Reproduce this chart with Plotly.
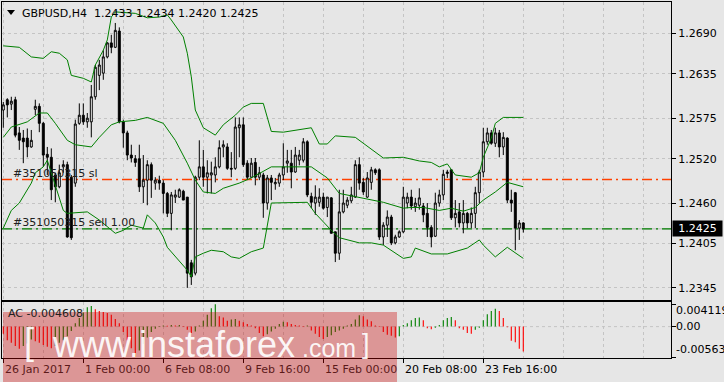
import plotly.graph_objects as go

# ---------------- data ----------------
bars = list(range(131))

opens = [
1.2586, 1.2600, 1.2594, 1.2600, 1.2555, 1.2548, 1.2548, 1.2536, 1.2587, 1.2591,
1.2568, 1.2526, 1.2522, 1.2498, 1.2482, 1.2509, 1.2512, 1.2495, 1.2487, 1.2568,
1.2579, 1.2570, 1.2570, 1.2604, 1.2633, 1.2636, 1.2658, 1.2677, 1.2671, 1.2693,
1.2570, 1.2555, 1.2525, 1.2520, 1.2520, 1.2482, 1.2491, 1.2512, 1.2487, 1.2491,
1.2487, 1.2473, 1.2446, 1.2468, 1.2468, 1.2476, 1.2468, 1.2379, 1.2365, 1.2495,
1.2509, 1.2495, 1.2498, 1.2498, 1.2509, 1.2536, 1.2536, 1.2507, 1.2507, 1.2562,
1.2566, 1.2514, 1.2495, 1.2515, 1.2495, 1.2498, 1.2460, 1.2494, 1.2486, 1.2487,
1.2498, 1.2514, 1.2514, 1.2502, 1.2518, 1.2518, 1.2543, 1.2469, 1.2460, 1.2461,
1.2468, 1.2454, 1.2467, 1.2421, 1.2392, 1.2448, 1.2457, 1.2463, 1.2468, 1.2512,
1.2488, 1.2468, 1.2488, 1.2505, 1.2505, 1.2414, 1.2430, 1.2441, 1.2406, 1.2414,
1.2421, 1.2460, 1.2468, 1.2455, 1.2457, 1.2456, 1.2446, 1.2427, 1.2415, 1.2460,
1.2471, 1.2500, 1.2505, 1.2440, 1.2448, 1.2433, 1.2446, 1.2433, 1.2446, 1.2474,
1.2502, 1.2543, 1.2555, 1.2541, 1.2555, 1.2536, 1.2548, 1.2464, 1.2474, 1.2426,
1.2433]

highs = [
1.2597, 1.2602, 1.2604, 1.2604, 1.2563, 1.2559, 1.2561, 1.2559, 1.2600, 1.2595,
1.2570, 1.2536, 1.2534, 1.2501, 1.2512, 1.2518, 1.2516, 1.2498, 1.2573, 1.2595,
1.2595, 1.2582, 1.2620, 1.2647, 1.2654, 1.2667, 1.2678, 1.2688, 1.2704, 1.2698,
1.2573, 1.2558, 1.2539, 1.2525, 1.2539, 1.2525, 1.2518, 1.2515, 1.2495, 1.2497,
1.2491, 1.2475, 1.2475, 1.2478, 1.2480, 1.2478, 1.2468, 1.2383, 1.2497, 1.2545,
1.2532, 1.2518, 1.2516, 1.2522, 1.2545, 1.2545, 1.2541, 1.2529, 1.2576, 1.2576,
1.2576, 1.2518, 1.2521, 1.2521, 1.2509, 1.2501, 1.2498, 1.2498, 1.2494, 1.2501,
1.2541, 1.2532, 1.2532, 1.2536, 1.2532, 1.2548, 1.2545, 1.2474, 1.2484, 1.2480,
1.2474, 1.2468, 1.2468, 1.2421, 1.2478, 1.2478, 1.2468, 1.2482, 1.2518, 1.2522,
1.2494, 1.2502, 1.2509, 1.2507, 1.2507, 1.2434, 1.2450, 1.2444, 1.2417, 1.2423,
1.2482, 1.2474, 1.2478, 1.2467, 1.2480, 1.2460, 1.2460, 1.2430, 1.2474, 1.2478,
1.2505, 1.2505, 1.2506, 1.2464, 1.2460, 1.2464, 1.2448, 1.2454, 1.2482, 1.2505,
1.2562, 1.2562, 1.2559, 1.2562, 1.2559, 1.2556, 1.2549, 1.2478, 1.2475, 1.2437,
1.2434]

lows = [
1.2562, 1.2576, 1.2586, 1.2549, 1.2532, 1.2514, 1.2522, 1.2535, 1.2579, 1.2556,
1.2509, 1.2498, 1.2464, 1.2461, 1.2480, 1.2501, 1.2413, 1.2410, 1.2482, 1.2566,
1.2566, 1.2562, 1.2549, 1.2600, 1.2613, 1.2627, 1.2656, 1.2663, 1.2670, 1.2568,
1.2535, 1.2518, 1.2515, 1.2509, 1.2475, 1.2460, 1.2457, 1.2467, 1.2478, 1.2478,
1.2446, 1.2441, 1.2423, 1.2460, 1.2467, 1.2464, 1.2345, 1.2349, 1.2362, 1.2491,
1.2482, 1.2473, 1.2473, 1.2488, 1.2507, 1.2522, 1.2505, 1.2495, 1.2505, 1.2522,
1.2509, 1.2491, 1.2494, 1.2484, 1.2491, 1.2440, 1.2451, 1.2464, 1.2478, 1.2482,
1.2491, 1.2501, 1.2480, 1.2501, 1.2511, 1.2515, 1.2468, 1.2453, 1.2444, 1.2455,
1.2451, 1.2441, 1.2419, 1.2380, 1.2383, 1.2446, 1.2453, 1.2460, 1.2467, 1.2478,
1.2471, 1.2467, 1.2478, 1.2498, 1.2410, 1.2403, 1.2414, 1.2403, 1.2404, 1.2413,
1.2419, 1.2453, 1.2451, 1.2448, 1.2451, 1.2434, 1.2414, 1.2400, 1.2414, 1.2455,
1.2464, 1.2494, 1.2437, 1.2427, 1.2427, 1.2419, 1.2426, 1.2426, 1.2426, 1.2460,
1.2495, 1.2539, 1.2539, 1.2536, 1.2522, 1.2525, 1.2460, 1.2448, 1.2396, 1.2410,
1.2420]

closes = [
1.2593, 1.2593, 1.2598, 1.2552, 1.2545, 1.2543, 1.2536, 1.2545, 1.2591, 1.2568,
1.2525, 1.2522, 1.2478, 1.2482, 1.2501, 1.2512, 1.2414, 1.2413, 1.2567, 1.2579,
1.2570, 1.2575, 1.2604, 1.2644, 1.2647, 1.2658, 1.2677, 1.2671, 1.2694, 1.2570,
1.2555, 1.2525, 1.2521, 1.2515, 1.2482, 1.2491, 1.2512, 1.2491, 1.2491, 1.2487,
1.2473, 1.2446, 1.2471, 1.2471, 1.2478, 1.2464, 1.2365, 1.2360, 1.2495, 1.2509,
1.2495, 1.2501, 1.2501, 1.2509, 1.2535, 1.2539, 1.2507, 1.2506, 1.2563, 1.2566,
1.2512, 1.2495, 1.2514, 1.2495, 1.2501, 1.2460, 1.2494, 1.2488, 1.2488, 1.2498,
1.2509, 1.2517, 1.2502, 1.2525, 1.2525, 1.2543, 1.2471, 1.2461, 1.2468, 1.2468,
1.2453, 1.2468, 1.2419, 1.2392, 1.2448, 1.2460, 1.2464, 1.2471, 1.2512, 1.2487,
1.2475, 1.2494, 1.2505, 1.2501, 1.2414, 1.2430, 1.2441, 1.2406, 1.2414, 1.2421,
1.2468, 1.2468, 1.2456, 1.2460, 1.2467, 1.2444, 1.2427, 1.2414, 1.2460, 1.2471,
1.2499, 1.2502, 1.2440, 1.2446, 1.2433, 1.2446, 1.2433, 1.2446, 1.2474, 1.2502,
1.2543, 1.2555, 1.2541, 1.2555, 1.2536, 1.2549, 1.2464, 1.2460, 1.2426, 1.2433,
1.2425]

# Bollinger band readings (bar index, price)
upper_idx = [0, 4, 7, 10, 12, 14, 16, 17, 20, 22, 23, 25, 26, 27, 28, 33, 36, 39, 41, 42,
             45, 46, 47, 48, 50, 53, 55, 58, 60, 62, 65, 67, 70, 77, 79, 81, 83, 88, 95, 100,
             104, 107, 109, 111, 113, 117, 119, 120, 122, 123, 125, 130]
upper_val = [1.2673, 1.2671, 1.2658, 1.2656, 1.2665, 1.2663, 1.2654, 1.2633, 1.2629, 1.2624,
             1.2647, 1.2667, 1.2681, 1.2712, 1.2719, 1.2717, 1.2711, 1.2712, 1.2715, 1.2708,
             1.2685, 1.2663, 1.2631, 1.2586, 1.2562, 1.2552, 1.2566, 1.2579, 1.2590, 1.2595,
             1.2595, 1.2557, 1.2556, 1.2562, 1.2540, 1.2540, 1.2551, 1.2549, 1.2521, 1.2522,
             1.2517, 1.2515, 1.2509, 1.2513, 1.2498, 1.2495, 1.2501, 1.2522, 1.2548, 1.2568,
             1.2576, 1.2576]
mid_idx = [0, 2, 6, 9, 11, 13, 16, 18, 22, 24, 27, 29, 33, 36, 40, 43, 46, 48, 50, 53,
           55, 59, 62, 67, 77, 81, 84, 89, 93, 95, 100, 102, 105, 109, 112, 115, 118, 120, 123, 126,
           130]
mid_val = [1.2549, 1.2563, 1.2570, 1.2582, 1.2582, 1.2568, 1.2545, 1.2539, 1.2536, 1.2549,
           1.2566, 1.2570, 1.2572, 1.2576, 1.2568, 1.2545, 1.2514, 1.2491, 1.2475, 1.2473,
           1.2480, 1.2487, 1.2494, 1.2509, 1.2509, 1.2494, 1.2473, 1.2468, 1.2464, 1.2461,
           1.2453, 1.2454, 1.2454, 1.2450, 1.2453, 1.2449, 1.2454, 1.2464, 1.2475, 1.2488,
           1.2482]
lower_idx = [0, 2, 4, 7, 8, 10, 11, 13, 15, 16, 21, 24, 27, 28, 30, 32, 35, 36, 38, 40,
             41, 46, 47, 48, 50, 52, 55, 57, 59, 62, 65, 67, 76, 78, 82, 84, 89, 92, 95, 100,
             102, 103, 107, 111, 116, 119, 120, 123, 126, 130]
lower_val = [1.2426, 1.2450, 1.2460, 1.2487, 1.2501, 1.2509, 1.2518, 1.2484, 1.2450, 1.2446,
             1.2448, 1.2437, 1.2423, 1.2419, 1.2423, 1.2430, 1.2426, 1.2444, 1.2433, 1.2414,
             1.2400, 1.2369, 1.2360, 1.2387, 1.2392, 1.2396, 1.2394, 1.2387, 1.2385, 1.2394,
             1.2399, 1.2460, 1.2461, 1.2446, 1.2423, 1.2413, 1.2406, 1.2406, 1.2403, 1.2385,
             1.2387, 1.2399, 1.2391, 1.2391, 1.2399, 1.2410, 1.2403, 1.2387, 1.2400, 1.2385]

# Accelerator oscillator
ac = [
-0.0013, -0.0025, -0.0030, -0.0036, -0.0041,
-0.0036, -0.0031, -0.0024,
-0.0027, -0.0030, -0.0034, -0.0037, -0.0040,
-0.0036, -0.0030, -0.0025, -0.0018, -0.0008,
0.0006, 0.0016, 0.0026, 0.0036, 0.0038,
0.0032, 0.0029, 0.0027, 0.0025, 0.0022, 0.0014, 0.0006,
-0.0010, -0.0025, -0.0040, -0.00563,
-0.0044, -0.0032, -0.0020,
-0.0010, -0.0004, 0.0001, 0.0002,
0.00015, 0.0003, 0.0002, 0.0003, 0.0001, -0.0006, -0.0012,
-0.0009, 0.0002, 0.0011, 0.0022, 0.0034, 0.004119,
0.0019, 0.0017, 0.0011,
0.0013, 0.0014,
0.0011, 0.0008, 0.0005, 0.0002, -0.0003, -0.0012, -0.0018,
-0.0014, -0.0009, -0.0004,
0.0005, 0.0009,
0.0008, 0.0005, 0.0003, 0.0002, 0.0001,
0.0002,
-0.0007, -0.0013, -0.0019, -0.0023,
-0.0019, -0.0016, -0.0010, -0.0007, -0.0004,
0.0002, 0.0005, 0.0013, 0.0021,
0.0019, 0.0013, 0.0010, 0.0002,
-0.00005,
-0.0010, -0.0015, -0.0017, -0.0020,
-0.0018,
0.0003, 0.0006, 0.0012, 0.0016, 0.0017,
0.0012,
-0.0003, -0.0005,
-0.0002,
0.0003, 0.0012, 0.0016, 0.0018,
0.0012,
-0.0003, -0.0006, -0.0012, -0.0013,
-0.0006, -0.0002,
0.0012, 0.0023, 0.0029, 0.0033,
0.0029, 0.0016,
-0.0001,
-0.0026, -0.0029, -0.0041, -0.004608]

price_ticks = [1.2690, 1.2635, 1.2575, 1.2520, 1.2460, 1.2405, 1.2345]
ac_ticks = [0.004119, 0.0, -0.00563]
ac_tick_text = ["0.004119", "0.00", "-0.00563"]
date_idx = [0, 20, 40, 60, 80, 100, 120]
date_labels = ["26 Jan 2017", "1 Feb 00:00", "6 Feb 08:00", "9 Feb 16:00",
               "15 Feb 00:00", "20 Feb 08:00", "23 Feb 16:00"]
sl_level = 1.2492
entry_level = 1.2425
last_price = "1.2425"
title_text = "GBPUSD,H4  1.2433 1.2434 1.2420 1.2425"
ac_label = "AC -0.004608"
sl_label = "#351050315 sl"
entry_label = "#351050315 sell 1.00"

# ---------------- layout helpers ----------------
W, H = 724, 382
def px(x):
    return x / W
def py(y):
    return 1 - y / H

BG = "#e6e6e6"
GRID = "#c4c4c4"
FONT = "DejaVu Sans"
WMFONT = "Liberation Sans"

ac_colors = []
for i, v in enumerate(ac):
    if i == 0:
        ac_colors.append("#ff0000")
    else:
        ac_colors.append("#008000" if v > ac[i - 1] else "#ff0000")

fig = go.Figure()

for bx, by in [(upper_idx, upper_val), (mid_idx, mid_val), (lower_idx, lower_val)]:
    fig.add_trace(go.Scatter(x=bx, y=by, mode="lines",
                             line=dict(color="#008000", width=1), hoverinfo="skip",
                             xaxis="x", yaxis="y"))

fig.add_trace(go.Candlestick(
    x=bars, open=opens, high=highs, low=lows, close=closes,
    increasing=dict(line=dict(color="black", width=1), fillcolor="white"),
    decreasing=dict(line=dict(color="black", width=1), fillcolor="black"),
    whiskerwidth=0, hoverinfo="skip", xaxis="x", yaxis="y"))

fig.add_trace(go.Bar(x=bars, y=ac, marker=dict(color=ac_colors, line=dict(width=0)),
                     width=0.28, hoverinfo="skip", xaxis="x2", yaxis="y2"))

xr = [-0.325, 166.925]
xdom = [px(2), px(671)]

shapes = []
# bid line + order lines
shapes.append(dict(type="line", xref="paper", yref="y", x0=xdom[0], x1=xdom[1],
                   y0=entry_level, y1=entry_level, line=dict(color="#b8b8b8", width=1), layer="below"))
shapes.append(dict(type="line", xref="paper", yref="y", x0=xdom[0], x1=xdom[1],
                   y0=entry_level, y1=entry_level,
                   line=dict(color="#008000", width=1.2, dash="10px,4px,2px,4px"), layer="below"))
shapes.append(dict(type="line", xref="paper", yref="y", x0=xdom[0], x1=xdom[1],
                   y0=sl_level, y1=sl_level,
                   line=dict(color="#ff4000", width=1.5, dash="10px,4px,2px,4px"), layer="below"))
# AC zero grid line
shapes.append(dict(type="line", xref="paper", yref="y2", x0=xdom[0], x1=xdom[1],
                   y0=0, y1=0, line=dict(color=GRID, width=1, dash="3px,3px"), layer="below"))
# triangle in title
shapes.append(dict(type="path", xref="paper", yref="paper",
                   path=f"M {px(7)} {py(10)} L {px(15)} {py(10)} L {px(11)} {py(15)} Z",
                   fillcolor="black", line=dict(width=0)))
# watermark rectangle
shapes.append(dict(type="rect", xref="paper", yref="paper",
                   x0=px(3), x1=px(397), y0=0, y1=py(312),
                   fillcolor="rgba(200,0,0,0.35)", line=dict(width=0), layer="above"))

annotations = []
annotations.append(dict(text=title_text, xref="paper", yref="paper", x=px(20), y=py(13),
                        xanchor="left", yanchor="middle", showarrow=False,
                        font=dict(family=FONT, size=11, color="black")))
annotations.append(dict(text=sl_label, xref="paper", yref="paper", x=px(11), y=py(173),
                        xanchor="left", yanchor="middle", showarrow=False,
                        font=dict(family=FONT, size=11, color="#202020")))
annotations.append(dict(text=entry_label, xref="paper", yref="paper", x=px(11), y=py(222),
                        xanchor="left", yanchor="middle", showarrow=False,
                        font=dict(family=FONT, size=11, color="#202020")))
annotations.append(dict(text=last_price, xref="paper", yref="y", x=px(672), y=entry_level,
                        xanchor="left", yanchor="middle", showarrow=False, width=47,
                        bgcolor="black", borderpad=1,
                        font=dict(family=FONT, size=11, color="white")))
annotations.append(dict(text=ac_label, xref="paper", yref="paper", x=px(6), y=py(313),
                        xanchor="left", yanchor="middle", showarrow=False,
                        font=dict(family=FONT, size=11, color="#202020")))
ac_label_y = [310.7, 326.7, 349.3]
for t, yy in zip(ac_tick_text, ac_label_y):
    annotations.append(dict(text=t, xref="paper", yref="paper", x=px(674), y=py(yy),
                            xanchor="left", yanchor="middle", showarrow=False,
                            font=dict(family=FONT, size=11, color="black")))
for i, (b, lab) in enumerate(zip(date_idx, date_labels)):
    col = "#5c1a1a" if i < 5 else "black"
    annotations.append(dict(text=lab, xref="x2", yref="paper", x=b, y=py(369),
                            xanchor="left", yanchor="middle", showarrow=False,
                            font=dict(family=FONT, size=11, color=col)))
# watermark text
WM = "rgba(255,255,255,0.92)"
annotations.append(dict(text="[", xref="paper", yref="paper", x=px(22), y=py(341),
                        xanchor="left", yanchor="middle", showarrow=False,
                        font=dict(family=WMFONT, size=36, color=WM)))
annotations.append(dict(text="www.instaforex", xref="paper", yref="paper", x=px(50), y=py(344),
                        xanchor="left", yanchor="middle", showarrow=False,
                        font=dict(family=WMFONT, size=36, color=WM)))
annotations.append(dict(text=".com", xref="paper", yref="paper", x=px(300), y=py(348),
                        xanchor="left", yanchor="middle", showarrow=False,
                        font=dict(family=WMFONT, size=25, color=WM)))
annotations.append(dict(text="]", xref="paper", yref="paper", x=px(360), y=py(344),
                        xanchor="left", yanchor="middle", showarrow=False,
                        font=dict(family=WMFONT, size=27, color=WM)))

fig.update_layout(
    width=W, height=H, margin=dict(l=0, r=0, t=0, b=0),
    paper_bgcolor=BG, plot_bgcolor=BG, showlegend=False,
    boxgap=0.3,
    xaxis=dict(domain=xdom, range=xr, anchor="y", showticklabels=False,
               tick0=0, dtick=10, ticks="", showgrid=True, gridcolor=GRID, griddash="3px,3px",
               gridwidth=1, zeroline=False, showline=True, linecolor="black", linewidth=1,
               mirror=True, rangeslider=dict(visible=False), fixedrange=True),
    yaxis=dict(domain=[py(300), py(2)], range=[1.23286, 1.27324], anchor="x", side="right",
               tickmode="array", tickvals=price_ticks, ticktext=[f"{v:.4f}" for v in price_ticks],
               ticks="outside", ticklen=4, tickcolor="black",
               tickfont=dict(family=FONT, size=11, color="black"),
               showgrid=True, gridcolor=GRID, griddash="3px,3px", zeroline=False,
               showline=True, linecolor="black", linewidth=1, mirror=True, fixedrange=True),
    xaxis2=dict(domain=xdom, range=xr, anchor="y2", showticklabels=False,
                tickmode="array", tickvals=date_idx, ticks="outside", ticklen=4, tickcolor="black",
                showgrid=False, zeroline=False, showline=True, linecolor="black", linewidth=1,
                mirror=True,
                minor=dict(tick0=0, dtick=10, showgrid=True, gridcolor=GRID, griddash="3px,3px",
                           ticks=""),
                fixedrange=True),
    yaxis2=dict(domain=[py(358), py(302)], range=[-0.0058, 0.00455], anchor="x2", side="right",
                tickmode="array", tickvals=ac_ticks, showticklabels=False,
                ticks="outside", ticklen=4, tickcolor="black",
                showgrid=False, zeroline=False, showline=True, linecolor="black", linewidth=1,
                mirror=True, fixedrange=True),
    shapes=shapes, annotations=annotations,
)

fig.write_html("out.html", config=dict(displayModeBar=False, staticPlot=True))
